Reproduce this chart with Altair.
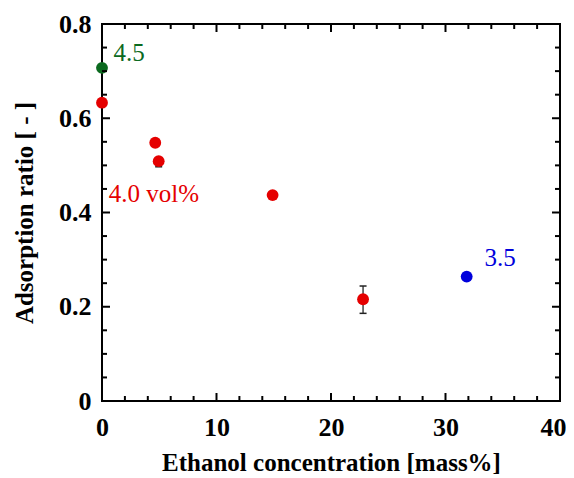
import altair as alt
import pandas as pd

# Data
conc = [0.0, 0.0, 4.65, 4.95, 14.9, 22.8, 31.85]
ratio = [0.707, 0.633, 0.548, 0.509, 0.437, 0.216, 0.264]
group = ["g", "r", "r", "r", "r", "r", "b"]

err_x = [4.95, 22.8]
err_lo = [0.497, 0.186]
err_hi = [0.515, 0.244]

label_text = ["4.5", "4.0 vol%", "3.5"]
label_x = [1.0, 0.6, 33.4]
label_y = [0.739, 0.44, 0.304]
label_group = ["g", "r", "b"]

x_major = [0, 10, 20, 30, 40]
x_minor = [v for v in range(0, 41, 2) if v % 10 != 0]
y_major = [0.0, 0.2, 0.4, 0.6, 0.8]
y_minor = [round(0.05 * i, 2) for i in range(17) if i % 4 != 0]

COLORS = {"g": "#0b6a1f", "r": "#e50000", "b": "#0000dc"}
FONT = "Liberation Serif"

pts = pd.DataFrame({"x": conc, "y": ratio, "g": group})
pts["c"] = pts["g"].map(COLORS)
errs = pd.DataFrame({"x": err_x, "lo": err_lo, "hi": err_hi})
labs = pd.DataFrame({"x": label_x, "y": label_y, "t": label_text, "g": label_group})
labs["c"] = labs["g"].map(COLORS)

xt = pd.DataFrame({"v": x_major + x_minor, "len": [16] * len(x_major) + [10] * len(x_minor)})
yt = pd.DataFrame({"v": y_major + y_minor, "len": [16] * len(y_major) + [10] * len(y_minor)})

xscale = alt.Scale(domain=[0, 40], nice=False, zero=False)
yscale = alt.Scale(domain=[0, 0.8], nice=False, zero=False)

xaxis = alt.Axis(values=x_major, ticks=False, domain=False, grid=False,
                 labelFont=FONT, labelFontWeight="bold", labelFontSize=26,
                 labelColor="black", labelPadding=13,
                 labelOffset={"condition": {"test": "datum.value == 40", "value": -7}, "value": 0},
                 title="Ethanol concentration [mass%]", titleFont=FONT,
                 titleFontWeight="bold", titleFontSize=25, titleColor="black",
                 titlePadding=10, labelFlush=False)
yaxis = alt.Axis(values=y_major, ticks=False, domain=False, grid=False,
                 labelFont=FONT, labelFontWeight="bold", labelFontSize=26,
                 labelColor="black", labelPadding=11,
                 labelExpr="datum.value == 0 ? '0' : format(datum.value, '.1f')",
                 title="Adsorption ratio [ - ]", titleFont=FONT,
                 titleFontWeight="bold", titleFontSize=25, titleColor="black",
                 titlePadding=21, labelFlush=False)

X = lambda f: alt.X(f, scale=xscale, axis=xaxis)
Y = lambda f: alt.Y(f, scale=yscale, axis=yaxis)

points = alt.Chart(pts).mark_circle(size=140, opacity=1).encode(
    x=X("x:Q"), y=Y("y:Q"),
    color=alt.Color("c:N", scale=None),
)

err_rule = alt.Chart(errs).mark_rule(color="#444", strokeWidth=1.5, opacity=1).encode(
    x=X("x:Q"), y=Y("lo:Q"), y2="hi:Q")
err_cap_lo = alt.Chart(errs).mark_tick(color="#222", orient="horizontal", size=7, thickness=1.5, opacity=1).encode(
    x=X("x:Q"), y=Y("lo:Q"))
err_cap_hi = alt.Chart(errs).mark_tick(color="#222", orient="horizontal", size=7, thickness=1.5, opacity=1).encode(
    x=X("x:Q"), y=Y("hi:Q"))

texts = alt.Chart(labs).mark_text(font=FONT, fontSize=25, align="left", baseline="middle").encode(
    x=X("x:Q"), y=Y("y:Q"), text="t:N",
    color=alt.Color("c:N", scale=None))

def xticks(at):
    return alt.Chart(xt).mark_tick(orient="vertical", thickness=2, color="black", opacity=1, clip=True).encode(
        x=X("v:Q"), y=alt.Y(datum=at, scale=yscale, axis=yaxis),
        size=alt.Size("len:Q", scale=None))

def yticks(at):
    return alt.Chart(yt).mark_tick(orient="horizontal", thickness=2, color="black", opacity=1, clip=True).encode(
        y=Y("v:Q"), x=alt.X(datum=at, scale=xscale, axis=xaxis),
        size=alt.Size("len:Q", scale=None))

chart = alt.layer(
    err_rule, err_cap_lo, err_cap_hi, points,
    xticks(0), xticks(0.8), yticks(0), yticks(40), texts,
).properties(
    width=458, height=377,
    autosize=alt.AutoSizeParams(type="none"),
    padding={"left": 94, "top": 16, "right": 6, "bottom": 76},
).configure_view(stroke="black", strokeWidth=2)

chart.save("out.html", embed_options={"renderer": "svg", "actions": False})
